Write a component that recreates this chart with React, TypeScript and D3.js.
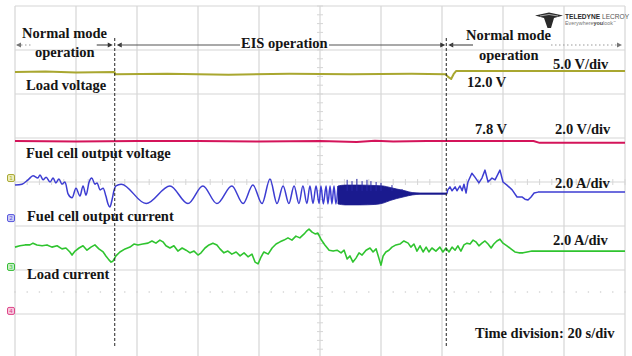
import React from 'react';
import * as d3 from 'd3';

type Pt = [number, number]; // [time (s), level (div)]

const W = 632;
const H = 356;

// Scope screen: 10 horizontal divisions at 20 s/div, 8 vertical divisions
const timeGrid = d3.range(0, 201, 20);
const levelGrid = d3.range(-4, 5, 1);
const minorTimeTicks = d3.range(0, 200.01, 4);
const minorLevelTicks = d3.range(-4, 4.01, 0.2);

// Instants where the converter switches between normal mode and EIS operation
const modeChanges = [32.7, 141.4];

// Channel 1: load voltage
const loadVoltage: Pt[] = [
  [0, 2.5], [10, 2.51], [20, 2.49], [32.6, 2.5], [32.9, 2.45], [50, 2.46], [70, 2.44], [90, 2.46],
  [110, 2.45], [130, 2.46], [141.2, 2.45], [142.0, 2.39], [143.0, 2.34], [143.8, 2.45],
  [144.6, 2.52], [170, 2.52], [200, 2.52],
];

// Channel 2: fuel cell output voltage
const fcVoltage: Pt[] = [
  [0, 0.93], [20, 0.92], [40, 0.93], [60, 0.93], [80, 0.92], [100, 0.93], [112, 0.91],
  [118, 0.94], [124, 0.92], [135, 0.93], [150, 0.93], [170, 0.93], [172, 0.89], [200, 0.89],
];

// Channel 3: fuel cell output current, normal mode then the EIS sweep
const fcCurrentSweep: Pt[] = [
  [0, -0.07], [2.3, -0.05], [4.3, 0.05], [5.9, 0.14], [7.5, 0.09], [8.2, 0.16], [9.2, 0.05],
  [10.2, 0.11], [11.5, 0], [12.5, 0.09], [13.4, -0.02], [14.4, 0.07], [15.4, -0.05], [16.4, 0],
  [17.4, -0.27], [18.7, -0.36], [20.0, -0.14], [21.3, -0.32], [22.3, -0.09], [23.3, -0.3],
  [24.3, 0], [25.2, 0.09], [26.2, -0.05], [26.9, -0.02], [27.9, -0.18], [28.9, -0.14],
  [29.8, -0.32], [30.5, -0.5], [31.1, -0.57], [31.8, -0.41], [32.5, -0.18], [33.1, -0.09],
  [34.8, -0.05], [43.0, -0.49], [50.8, -0.09], [56.7, -0.49], [61.6, -0.09], [66.2, -0.49],
  [71.1, -0.09], [74.8, -0.49], [78.0, -0.07], [81.0, -0.49], [83.6, 0.07], [85.9, -0.49],
  [87.9, -0.09], [89.8, -0.49], [91.5, -0.09], [93.1, -0.49], [94.4, -0.09], [95.7, -0.49],
  [96.7, -0.09], [97.7, -0.49], [98.7, -0.09], [99.7, -0.49], [100.3, -0.09], [101.1, -0.5],
  [102.0, -0.09], [102.6, -0.5], [103.3, -0.09], [103.9, -0.5], [104.6, -0.09], [105.2, -0.5],
  [105.9, -0.09],
];

// High-frequency part of the sweep: envelope of the trace [time, upper, lower]
const fcCurrentEnvelope: [number, number, number][] = [
  [105.9, -0.09, -0.5], [108.2, -0.07, -0.52], [113.0, -0.07, -0.52], [118.0, -0.08, -0.51],
  [120.7, -0.09, -0.48], [123.0, -0.125, -0.42], [125.2, -0.16, -0.375], [127.9, -0.2, -0.33],
  [130.2, -0.24, -0.295], [132.8, -0.25, -0.28], [141.6, -0.25, -0.28],
];

// Isolated peaks standing above the envelope [time, peak]
const fcCurrentSpikes: Pt[] = [
  [108.9, 0.05], [110.5, 0.02], [112.1, 0.07], [113.8, 0.02], [115.4, 0.05], [116.7, 0.02],
  [118.4, 0], [120.0, -0.02], [123.6, -0.07], [126.9, -0.16],
];

// Channel 3 after returning to normal mode
const fcCurrentNormal: Pt[] = [
  [141.6, -0.26], [141.9, -0.18], [142.6, -0.11], [143.3, -0.2], [144.3, -0.11], [144.9, -0.2],
  [145.9, -0.09], [146.6, -0.2], [147.2, -0.05], [147.9, -0.25], [148.5, 0], [149.8, 0.2],
  [150.8, 0.11], [152.1, -0.02], [153.1, 0.09], [154.1, 0.27], [155.1, 0.0], [156.4, 0.09],
  [157.4, 0.05], [159.0, 0.27], [160.0, 0.0], [161.3, -0.07], [163.0, -0.18], [164.6, -0.34],
  [166.2, -0.34], [167.2, -0.39], [168.2, -0.41], [169.2, -0.34], [170.2, -0.25], [171.5, -0.23],
  [200, -0.23],
];

// Channel 4: load current
const loadCurrent: Pt[] = [
  [0, -1.48], [1.6, -1.45], [3.3, -1.43], [4.9, -1.43], [5.9, -1.39], [7.2, -1.43], [8.9, -1.45],
  [10.5, -1.43], [12.1, -1.48], [13.8, -1.45], [15.4, -1.52], [16.7, -1.5], [18.0, -1.59],
  [18.7, -1.66], [19.7, -1.57], [21.0, -1.5], [22.3, -1.45], [23.6, -1.55], [24.9, -1.48],
  [26.2, -1.43], [27.5, -1.52], [28.9, -1.59], [29.8, -1.68], [30.8, -1.77], [31.5, -1.82],
  [32.1, -1.8], [33.1, -1.68], [34.4, -1.59], [36.1, -1.52], [37.7, -1.48], [39.0, -1.41],
  [40.3, -1.43], [41.9, -1.41], [43.6, -1.39], [44.9, -1.34], [46.2, -1.39], [47.5, -1.32],
  [48.5, -1.36], [49.5, -1.45], [50.8, -1.5], [52.1, -1.45], [53.4, -1.57], [54.8, -1.5],
  [56.1, -1.55], [57.4, -1.61], [58.7, -1.57], [60.0, -1.66], [61.0, -1.61], [62.3, -1.5],
  [63.6, -1.43], [64.9, -1.39], [66.2, -1.43], [67.2, -1.52], [68.5, -1.61], [69.8, -1.57],
  [71.1, -1.64], [72.5, -1.59], [73.8, -1.68], [75.1, -1.61], [76.4, -1.7], [77.7, -1.64],
  [78.7, -1.82], [79.7, -1.86], [80.7, -1.7], [81.6, -1.59], [83.0, -1.64], [84.3, -1.5],
  [85.6, -1.41], [86.9, -1.36], [88.2, -1.32], [89.5, -1.27], [90.8, -1.32], [92.1, -1.23],
  [93.4, -1.27], [94.8, -1.18], [95.7, -1.11], [96.4, -1.07], [97.4, -1.14], [98.4, -1.18],
  [99.3, -1.16], [100.3, -1.3], [101.6, -1.43], [103.0, -1.55], [104.3, -1.57], [105.6, -1.55],
  [106.9, -1.61], [107.9, -1.55], [108.9, -1.75], [109.8, -1.68], [110.8, -1.82], [111.8, -1.73],
  [112.8, -1.61], [113.8, -1.66], [115.1, -1.55], [116.4, -1.5], [117.4, -1.59], [118.4, -1.52],
  [119.3, -1.73], [120.0, -1.89], [120.7, -1.68], [121.6, -1.59], [122.6, -1.55], [123.6, -1.48],
  [124.9, -1.43], [126.2, -1.41], [127.5, -1.34], [128.9, -1.39], [129.8, -1.48], [130.8, -1.41],
  [131.8, -1.57], [132.8, -1.45], [133.8, -1.59], [134.8, -1.48], [135.7, -1.59], [136.7, -1.5],
  [138.0, -1.57], [139.3, -1.48], [140.3, -1.59], [141.3, -1.5], [142.3, -1.59], [143.3, -1.48],
  [144.3, -1.55], [145.2, -1.45], [146.2, -1.57], [147.2, -1.43], [148.2, -1.39], [149.2, -1.41],
  [150.2, -1.32], [151.1, -1.36], [152.1, -1.45], [153.1, -1.39], [154.1, -1.34], [155.1, -1.41],
  [156.1, -1.5], [157.0, -1.41], [158.0, -1.34], [159.0, -1.3], [160.0, -1.39], [161.3, -1.45],
  [162.6, -1.52], [163.9, -1.59], [165.2, -1.61], [166.6, -1.61], [167.9, -1.59], [169.5, -1.57],
  [200, -1.57],
];

// Channel ground markers on the left edge [level, colour, fill]
const channelMarkers: [number, string, string][] = [
  [0.09, '#a8a832', '#eeeebb'],
  [-0.82, '#5555dd', '#ccccf5'],
  [-1.93, '#33bb33', '#c8f0c8'],
  [-2.93, '#dd4488', '#f8c8dd'],
];

type Label = { text: string; x: number; y: number };
const labels: Label[] = [
  { text: 'Normal mode', x: 22, y: 38 },
  { text: 'operation', x: 35, y: 57 },
  { text: 'EIS operation', x: 241, y: 48 },
  { text: 'Normal mode', x: 466, y: 40 },
  { text: 'operation', x: 479, y: 60 },
  { text: '5.0 V/div', x: 553, y: 69 },
  { text: '12.0 V', x: 467, y: 87 },
  { text: 'Load voltage', x: 26, y: 90 },
  { text: '7.8 V', x: 475, y: 134 },
  { text: '2.0 V/div', x: 555, y: 134 },
  { text: 'Fuel cell output voltage', x: 26, y: 158 },
  { text: '2.0 A/div', x: 555, y: 188 },
  { text: 'Fuel cell output current', x: 27, y: 221 },
  { text: '2.0 A/div', x: 553, y: 245 },
  { text: 'Load current', x: 27, y: 279 },
  { text: 'Time division: 20 s/div', x: 475, y: 338 },
];

const GRID = '#d6d6d6';
const FONT = "'Liberation Serif', 'Times New Roman', serif";

function Arrowhead({ x, y, dir, color }: { x: number; y: number; dir: 1 | -1; color: string }) {
  const p = `M${x},${y} L${x - dir * 5},${y - 2.6} L${x - dir * 5},${y + 2.6} Z`;
  return <path d={p} fill={color} />;
}

export default function App() {
  const x = d3.scaleLinear().domain([0, 200]).range([15, 625]);
  const y = d3.scaleLinear().domain([-4, 4]).range([358, 6]);

  const line = d3
    .line<Pt>()
    .x((d) => x(d[0]))
    .y((d) => y(d[1]));
  const smooth = d3
    .line<Pt>()
    .x((d) => x(d[0]))
    .y((d) => y(d[1]))
    .curve(d3.curveMonotoneX);
  const envelope = d3
    .area<[number, number, number]>()
    .x((d) => x(d[0]))
    .y0((d) => y(d[2]))
    .y1((d) => y(d[1]))
    .curve(d3.curveMonotoneX);

  const [tA, tB] = modeChanges;
  const arrowY = 45;
  const xA = x(tA);
  const xB = x(tB);

  return (
    <svg
      width={W}
      height={H}
      viewBox={`0 0 ${W} ${H}`}
      style={{ position: 'absolute', left: 0, top: 0, display: 'block', background: '#fff' }}
    >
      <rect x={0} y={0} width={W} height={H} fill="#fff" />

      {/* graticule */}
      <g>
        {timeGrid.map((t) => (
          <line key={`v${t}`} x1={x(t)} x2={x(t)} y1={y(4)} y2={H} stroke={GRID} strokeWidth={1.2} />
        ))}
        {levelGrid.map((l) => (
          <line key={`h${l}`} x1={x(0)} x2={x(200)} y1={y(l)} y2={y(l)} stroke={GRID} strokeWidth={1.2} />
        ))}
        {minorTimeTicks.map((t) => (
          <line key={`mt${t}`} x1={x(t)} x2={x(t)} y1={y(0) - 3} y2={y(0) + 3} stroke={GRID} strokeWidth={1} />
        ))}
        {minorLevelTicks.map((l) => (
          <line key={`ml${l}`} x1={x(100) - 3} x2={x(100) + 3} y1={y(l)} y2={y(l)} stroke={GRID} strokeWidth={1} />
        ))}
        {minorTimeTicks.map((t) => (
          <circle key={`dt${t}`} cx={x(t)} cy={y(-2.5)} r={0.8} fill="#cfcfcf" />
        ))}
      </g>

      {/* channel markers */}
      {channelMarkers.map(([lvl, stroke, fill], i) => (
        <g key={`cm${i}`}>
          <rect x={7.5} y={y(lvl) - 3.5} width={7} height={7} rx={1.5} fill={fill} stroke={stroke} strokeWidth={1} />
          <text x={11} y={y(lvl) + 2.2} fontSize={5.5} textAnchor="middle" fill={stroke} fontFamily="DejaVu Sans">
            {i + 1}
          </text>
        </g>
      ))}

      {/* traces */}
      <path d={line(loadVoltage) ?? ''} fill="none" stroke="#a9a730" strokeWidth={2} strokeLinejoin="round" />
      <path d={line(fcVoltage) ?? ''} fill="none" stroke="#d4145a" strokeWidth={2} strokeLinejoin="round" />
      <path d={smooth(fcCurrentSweep) ?? ''} fill="none" stroke="#3d3dd2" strokeWidth={1.5} strokeLinejoin="round" />
      <path d={envelope(fcCurrentEnvelope) ?? ''} fill="#1a1a8e" stroke="#1a1a8e" strokeWidth={0.8} />
      {fcCurrentSpikes.map(([t, v], i) => (
        <line key={`sp${i}`} x1={x(t)} x2={x(t)} y1={y(v)} y2={y(-0.2)} stroke="#2a2aa8" strokeWidth={1} />
      ))}
      <path d={line(fcCurrentNormal) ?? ''} fill="none" stroke="#3d3dd2" strokeWidth={1.5} strokeLinejoin="round" />
      <path d={line(loadCurrent) ?? ''} fill="none" stroke="#2fc42f" strokeWidth={1.6} strokeLinejoin="round" />

      {/* mode boundaries */}
      {modeChanges.map((t) => (
        <line key={`mc${t}`} x1={x(t)} x2={x(t)} y1={38} y2={346} stroke="#222" strokeWidth={1} strokeDasharray="3,2" />
      ))}

      {/* operation arrows */}
      <g>
        <line x1={x(0) + 2} x2={x(0) + 18} y1={arrowY} y2={arrowY} stroke="#999" strokeWidth={1} strokeDasharray="1.5,2.5" />
        <Arrowhead x={x(0) + 1} y={arrowY} dir={-1} color="#777" />
        <line x1={xA - 18} x2={xA - 4} y1={arrowY} y2={arrowY} stroke="#555" strokeWidth={1.2} />
        <Arrowhead x={xA - 2} y={arrowY} dir={1} color="#333" />

        <Arrowhead x={xA + 2} y={arrowY} dir={-1} color="#333" />
        <line x1={xA + 5} x2={240} y1={arrowY} y2={arrowY} stroke="#555" strokeWidth={1.2} />
        <line x1={329} x2={xB - 4} y1={arrowY} y2={arrowY} stroke="#555" strokeWidth={1.2} />
        <Arrowhead x={xB - 1} y={arrowY} dir={1} color="#333" />

        <Arrowhead x={xB + 2} y={arrowY} dir={-1} color="#333" />
        <line x1={xB + 5} x2={473} y1={arrowY} y2={arrowY} stroke="#555" strokeWidth={1.2} />
        <line x1={551} x2={x(200) - 6} y1={arrowY} y2={arrowY} stroke="#999" strokeWidth={1} strokeDasharray="1.5,2.5" />
        <Arrowhead x={x(200) - 3} y={arrowY} dir={1} color="#777" />
      </g>

      {/* annotations */}
      {labels.map((l, i) => (
        <text
          key={`lb${i}`}
          x={l.x}
          y={l.y}
          fontFamily={FONT}
          fontWeight="bold"
          fontSize={14.5}
          fill="#151515"
        >
          {l.text}
        </text>
      ))}

      {/* instrument logo */}
      <g>
        <path d="M535,15.5 L549,12.5 L563,15.5 L554,18 L551,28 L547.5,28 L544,18 Z" fill="#2a2a2a" />
        <path d="M540,16 L549,14.5 L558,16" fill="none" stroke="#fff" strokeWidth={0.6} />
        <text x={565} y={18.5} fontFamily="'Liberation Sans', Arial, sans-serif" fontSize={6.6} fontWeight="bold" fill="#2a2a2a">
          TELEDYNE <tspan fontWeight="normal" fill="#555">LECROY</tspan>
        </text>
        <text x={565} y={25} fontFamily="'Liberation Sans', Arial, sans-serif" fontSize={5.4} fill="#777">
          Everywhere<tspan fontWeight="bold" fill="#444">you</tspan>look
          <tspan fontSize={3} dy={-2}>™</tspan>
        </text>
      </g>
    </svg>
  );
}
